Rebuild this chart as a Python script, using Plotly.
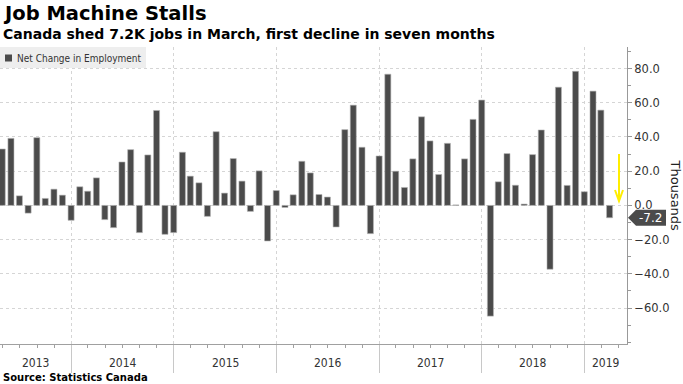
import pandas as pd
import plotly.graph_objects as go

# ---------------- data ----------------
first_month = "2013-04"
net_change = [
    # 2013 Apr-Dec
    33.0, 39.2, 5.6, -4.5, 39.6, 4.1, 9.5, 6.0, -8.7,
    # 2014
    10.9, 8.3, 16.1, -8.3, -13.0, 25.4, 32.6, -15.9, 29.5, 55.5, -16.9, -15.9,
    # 2015
    31.1, 17.1, 13.2, -6.4, 43.1, 7.2, 27.4, 14.2, -3.5, 20.2, -20.8, 8.7,
    # 2016
    -1.2, 6.2, 25.8, 19.0, 6.4, 4.9, -12.6, 44.3, 58.6, 34.0, -16.5, 28.9,
    # 2017
    76.7, 20.0, 10.5, 27.2, 51.8, 37.7, 18.1, 36.3, 0.3, 27.2, 50.3, 61.6,
    # 2018
    -64.7, 13.8, 30.3, 11.8, 0.8, 29.7, 44.1, -37.3, 69.1, 11.7, 78.4, 8.0,
    # 2019 Jan-Mar
    66.8, 55.7, -7.2,
]
year_labels = ["2013", "2014", "2015", "2016", "2017", "2018", "2019"]
y_tick_values = [-60, -40, -20, 0, 20, 40, 60, 80]
series_name = "Net Change in Employment"
title = "Job Machine Stalls"
subtitle = "Canada shed 7.2K jobs in March, first decline in seven months"
source = "Source: Statistics Canada"
last_label = "-7.2"

# month-end dates (Bloomberg plots monthly data at period end)
dates = (pd.date_range(start=first_month + "-01", periods=len(net_change), freq="MS")
         + pd.offsets.MonthEnd(0))

# ---------------- layout constants ----------------
W, H = 683, 384
M_L, M_R, M_T, M_B = 0, 56, 47, 40
PW = W - M_L - M_R
PH = H - M_T - M_B
x_range = [pd.Timestamp("2013-04-22"), pd.Timestamp("2019-06-01")]
y_range = [-81, 92.6]
FONT = "DejaVu Sans"
FONT_C = "DejaVu Sans Condensed, DejaVu Sans"


def px_y(p):
    """pixel row -> paper y"""
    return (M_T + PH - p) / PH


def px_x(p):
    return (p - M_L) / PW


bar_color = "#4b4b4b"

fig = go.Figure()
fig.add_trace(go.Bar(
    x=dates, y=net_change, name=series_name,
    marker=dict(color=bar_color, line=dict(color="#b5b5b5", width=0.6)),
    width=21.5 * 24 * 3600 * 1000,
    showlegend=False,
))

annotations = []
shapes = []

# year labels centred in the visible part of each year
for lab in year_labels:
    y0 = max(pd.Timestamp(f"{lab}-01-01"), x_range[0])
    y1 = min(pd.Timestamp(f"{int(lab)+1}-01-01"), x_range[1])
    mid = y0 + (y1 - y0) / 2
    annotations.append(dict(
        x=mid, xref="x", y=px_y(363), yref="paper", text=lab, showarrow=False,
        xanchor="center", yanchor="middle",
        font=dict(family=FONT_C, size=12, color="#333333")))

# titles
annotations += [
    dict(x=px_x(1), y=px_y(14), xref="paper", yref="paper", text=f"<b>{title}</b>",
         showarrow=False, xanchor="left", yanchor="middle",
         font=dict(family=FONT, size=19.5, color="#000000")),
    dict(x=px_x(1), y=px_y(33.5), xref="paper", yref="paper", text=f"<b>{subtitle}</b>",
         showarrow=False, xanchor="left", yanchor="middle",
         font=dict(family=FONT, size=14, color="#000000")),
    dict(x=px_x(1), y=px_y(377), xref="paper", yref="paper", text=f"<b>{source}</b>",
         showarrow=False, xanchor="left", yanchor="middle",
         font=dict(family=FONT, size=10, color="#000000")),
    # axis title
    dict(x=px_x(675), y=0.5, xref="paper", yref="paper", text="Thousands",
         showarrow=False, textangle=90, xanchor="center", yanchor="middle",
         font=dict(family=FONT, size=13, color="#222222")),
]

# custom legend
shapes.append(dict(type="rect", xref="paper", yref="paper",
                   x0=px_x(0), x1=px_x(146), y0=px_y(68), y1=px_y(47),
                   fillcolor="#eeeeee", line=dict(width=0), layer="above"))
shapes.append(dict(type="rect", xref="paper", yref="paper",
                   x0=px_x(5), x1=px_x(12), y0=px_y(61.5), y1=px_y(54.5),
                   fillcolor=bar_color, line=dict(width=0), layer="above"))
annotations.append(dict(x=px_x(14.5), y=px_y(58), xref="paper", yref="paper",
                        text=series_name, showarrow=False, xanchor="left", yanchor="middle",
                        font=dict(family=FONT_C, size=10, color="#333333")))

# last value label with arrow-shaped box
last_val = net_change[-1]
unit_px = PH / (y_range[1] - y_range[0])
half_h = 8 / unit_px
shapes.append(dict(type="path", xref="paper", yref="y",
                   path=(f"M {px_x(628)},{last_val} L {px_x(636)},{last_val + half_h} "
                         f"L {px_x(666)},{last_val + half_h} L {px_x(666)},{last_val - half_h} "
                         f"L {px_x(636)},{last_val - half_h} Z"),
                   fillcolor="#4b4b4b", line=dict(width=0), layer="above"))
annotations.append(dict(x=px_x(650), y=last_val, xref="paper", yref="y", text=last_label,
                        showarrow=False, xanchor="center", yanchor="middle",
                        font=dict(family=FONT, size=12, color="#ffffff")))

# yellow arrow
ax_x = px_x(619)
arm_dx = 4 / PW
arrow_top, arrow_tip = 30, 2.6
arm_len = 11 / unit_px
shapes.append(dict(type="line", xref="paper", yref="y", x0=ax_x, x1=ax_x,
                   y0=arrow_top, y1=arrow_tip, line=dict(color="#FFEE00", width=2)))
shapes.append(dict(type="path", xref="paper", yref="y",
                   path=(f"M {ax_x - arm_dx},{arrow_tip + arm_len} L {ax_x},{arrow_tip} "
                         f"L {ax_x + arm_dx},{arrow_tip + arm_len}"),
                   line=dict(color="#FFEE00", width=2)))

fig.update_layout(
    width=W, height=H,
    margin=dict(l=M_L, r=M_R, t=M_T, b=M_B, pad=0),
    paper_bgcolor="#ffffff", plot_bgcolor="#ffffff",
    bargap=0.3,
    showlegend=False,
    annotations=annotations, shapes=shapes,
    font=dict(family=FONT),
    xaxis=dict(
        type="date", range=x_range,
        showgrid=True, gridcolor="#d5d5d5", griddash="dot", gridwidth=1,
        tick0="2014-01-01", dtick="M12",
        ticks="outside", ticklen=28, tickcolor="#c8c8c8", tickwidth=1,
        showticklabels=False,
        showline=True, linecolor="#a0a0a0", linewidth=1,
        minor=dict(dtick="M2", tick0="2014-01-01", ticks="outside", ticklen=3,
                   tickcolor="#a0a0a0", showgrid=False),
        zeroline=False, fixedrange=True,
    ),
    yaxis=dict(
        side="right", range=y_range, automargin=False,
        tickvals=y_tick_values, tickformat=".1f",
        ticks="outside", ticklen=4, tickcolor="#999999",
        tickfont=dict(family=FONT, size=11.5, color="#333333"),
        showgrid=True, gridcolor="#d5d5d5", griddash="dot", gridwidth=1,
        showline=True, linecolor="#999999", linewidth=1,
        minor=dict(dtick=10, tick0=0, ticks="outside", ticklen=3, tickcolor="#999999",
                   showgrid=False),
        zeroline=False, fixedrange=True,
    ),
)

fig.write_html(
    "out.html",
    config={"displayModeBar": False},
    post_script="document.body.style.margin='0';document.body.style.overflow='hidden';",
)
